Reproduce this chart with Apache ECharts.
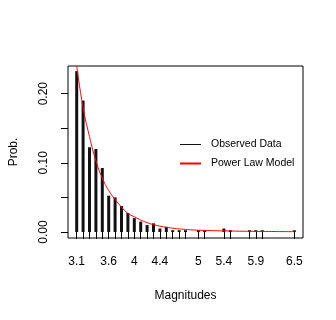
<!DOCTYPE html>
<html>
<head>
<meta charset="utf-8">
<script src="https://cdn.jsdelivr.net/npm/echarts@6/dist/echarts.min.js"></script>
<style>
  html, body { margin: 0; padding: 0; background: #fff; }
  #chart { width: 336px; height: 320px; }
</style>
</head>
<body>
<div id="chart"></div>
<script>
// observed magnitudes and their relative frequencies
var magnitudes = [3.1, 3.2, 3.3, 3.4, 3.5, 3.6, 3.7, 3.8, 3.9, 4.0, 4.1, 4.2, 4.3,
  4.4, 4.5, 4.6, 4.7, 4.8, 5.0, 5.1, 5.4, 5.5, 5.8, 5.9, 6.0, 6.5];
var observedProb = [0.2325, 0.19, 0.1225, 0.12, 0.0925, 0.0525, 0.05, 0.0375, 0.0275,
  0.02, 0.015, 0.01, 0.0125, 0.005, 0.0075, 0.0025, 0.0025, 0.0025, 0.0025, 0.0025,
  0.005, 0.0025, 0.0025, 0.0025, 0.0025, 0.0025];

// fitted model curve
var modelX = [3.1, 3.2, 3.3, 3.4, 3.5, 3.6, 3.7, 3.8, 3.9, 4.0, 4.2, 4.4, 4.6, 4.8,
  5.0, 5.5, 6.0, 6.5];
var modelProb = [0.240, 0.180, 0.138, 0.103, 0.078, 0.060, 0.047, 0.036, 0.027, 0.022,
  0.0135, 0.0085, 0.0055, 0.0037, 0.0026, 0.0014, 0.0008, 0.0005];

var xLabels = [3.1, 3.6, 4, 4.4, 5, 5.4, 5.9, 6.5];
var yTicks = [0, 0.05, 0.1, 0.15, 0.2];
var yLabels = [0, 0.1, 0.2];

var chart = echarts.init(document.getElementById('chart'));

var font = 'Liberation Sans, Arial, Helvetica, sans-serif';

var option = {
  animation: false,
  backgroundColor: '#fff',
  grid: {
    left: 66, right: 33, top: 66, bottom: 82,
    show: true,
    borderColor: '#000',
    borderWidth: 1,
    backgroundColor: 'transparent'
  },
  legend: {
    orient: 'vertical',
    left: 174,
    top: 134,
    itemWidth: 21,
    itemHeight: 1,
    itemGap: 8,
    textStyle: { fontFamily: font, fontSize: 10.5, color: '#000', padding: [0, 0, 0, 5] },
    data: [
      { name: 'Observed Data', icon: 'rect' },
      { name: 'Power Law Model' }
    ]
  },
  xAxis: {
    type: 'value',
    min: 2.964,
    max: 6.636,
    name: 'Magnitudes',
    nameLocation: 'middle',
    nameGap: 52,
    nameTextStyle: { fontFamily: font, fontSize: 12, color: '#000' },
    splitLine: { show: false },
    axisLine: { show: false },
    axisTick: {
      show: true, inside: false, length: 7,
      customValues: magnitudes,
      lineStyle: { color: '#000', width: 1 }
    },
    axisLabel: {
      customValues: xLabels,
      margin: 18,
      fontFamily: font, fontSize: 12, color: '#000',
      formatter: function (v) { return String(v); }
    }
  },
  yAxis: {
    type: 'value',
    min: -0.0087,
    max: 0.24,
    name: 'Prob.',
    nameLocation: 'middle',
    nameRotate: 90,
    nameGap: 48,
    nameTextStyle: { fontFamily: font, fontSize: 12, color: '#000' },
    splitLine: { show: false },
    axisLine: { show: false },
    axisTick: {
      show: true, inside: false, length: 7,
      customValues: yTicks,
      lineStyle: { color: '#000', width: 1 }
    },
    axisLabel: {
      customValues: yLabels,
      rotate: 90,
      margin: 18,
      fontFamily: font, fontSize: 12, color: '#000',
      formatter: function (v) { return v.toFixed(2); }
    }
  },
  series: [
    {
      name: 'Observed Data',
      type: 'bar',
      barWidth: 3,
      itemStyle: { color: '#111' },
      data: magnitudes.map(function (m, i) { return [m, observedProb[i]]; })
    },
    {
      name: 'Power Law Model',
      type: 'line',
      smooth: true,
      symbol: 'none',
      color: '#ff0000',
      lineStyle: { color: '#ff0000', width: 1 },
      itemStyle: { color: '#ff0000' },
      data: modelX.map(function (m, i) { return [m, modelProb[i]]; })
    }
  ]
};

chart.setOption(option);
</script>
</body>
</html>
